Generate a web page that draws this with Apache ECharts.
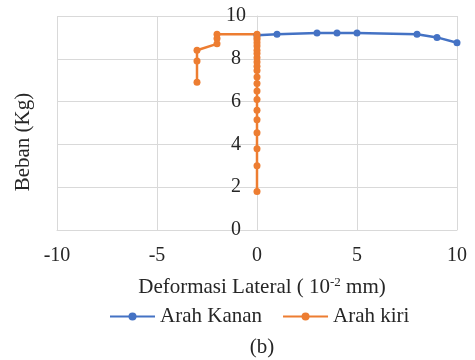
<!DOCTYPE html>
<html>
<head>
<meta charset="utf-8">
<script src="https://cdn.jsdelivr.net/npm/echarts@6/dist/echarts.min.js"></script>
<style>
  html, body { margin: 0; padding: 0; background: #fff; }
  #chart { width: 475px; height: 360px; }
</style>
</head>
<body>
<div id="chart"></div>
<script>
// data
var kananX = [0, 1, 3, 4, 5, 8, 9, 10];
var kananY = [9.1, 9.15, 9.2, 9.2, 9.2, 9.15, 9.0, 8.75];

var kiriX = [0, 0, 0, 0, 0, 0, 0, 0, 0, 0, 0, 0, 0, 0, 0, 0, 0, 0, 0, 0, 0,
             -2, -2, -2, -3, -3, -3];
var kiriY = [1.8, 3.0, 3.8, 4.55, 5.15, 5.6, 6.1, 6.5, 6.85, 7.15, 7.45, 7.65, 7.85, 8.05, 8.25, 8.4, 8.6, 8.75, 8.9, 9.0, 9.15,
             9.15, 8.95, 8.7, 8.4, 7.9, 6.9];

var xTicks = [-10, -5, 0, 5, 10];
var yTicks = [0, 2, 4, 6, 8, 10];

var seriesNames = ['Arah Kanan', 'Arah kiri'];
var colors = ['#4472C4', '#ED7D31'];

function pairs(xs, ys) {
  return xs.map(function (x, i) { return [x, ys[i]]; });
}

var font = 'Liberation Serif';
var txt = '#262626';
var chart = echarts.init(document.getElementById('chart'));

var option = {
  animation: false,
  color: colors,
  textStyle: { fontFamily: font, color: txt },
  grid: { left: 57, right: 18, top: 16, bottom: 130 },
  legend: {
    data: seriesNames,
    left: 104,
    top: 301,
    itemWidth: 45,
    itemHeight: 10,
    itemGap: 20,
    textStyle: { fontFamily: font, fontSize: 21, color: txt }
  },
  xAxis: {
    type: 'value',
    min: xTicks[0],
    max: xTicks[xTicks.length - 1],
    interval: 5,
    name: '{a|Deformasi Lateral ( 10}{s|-2}{a| mm)}',
    nameLocation: 'middle',
    nameGap: 46,
    nameTextStyle: {
      padding: [0, 0, 0, 10],
      rich: {
        a: { fontFamily: font, fontSize: 21, color: txt },
        s: { fontFamily: font, fontSize: 13, color: txt, verticalAlign: 'top', padding: [0, 0, 9, 0] }
      }
    },
    axisLine: { lineStyle: { color: '#d9d9d9', width: 1 } },
    axisTick: { show: false },
    axisLabel: { fontFamily: font, fontSize: 20, color: txt, margin: 16 },
    splitLine: { show: true, lineStyle: { color: '#d9d9d9' } }
  },
  yAxis: {
    type: 'value',
    min: yTicks[0],
    max: yTicks[yTicks.length - 1],
    interval: 2,
    offset: -200,
    axisLine: { show: true, onZero: false, lineStyle: { color: '#d9d9d9', width: 1 } },
    axisTick: { show: false },
    axisLabel: { fontFamily: font, fontSize: 20, color: txt, margin: 21, align: 'center' },
    splitLine: { show: true, lineStyle: { color: '#d9d9d9' } }
  },
  graphic: [
    {
      type: 'text',
      x: 23, y: 142,
      rotation: Math.PI / 2,
      style: {
        text: 'Beban (Kg)',
        fontFamily: font, fontSize: 21, fill: txt,
        align: 'center', verticalAlign: 'middle'
      }
    },
    {
      type: 'text',
      x: 262, y: 347,
      style: {
        text: '(b)',
        fontFamily: font, fontSize: 21, fill: txt,
        align: 'center', verticalAlign: 'middle'
      }
    }
  ],
  series: [
    {
      name: seriesNames[0],
      type: 'line',
      data: pairs(kananX, kananY),
      symbol: 'circle',
      symbolSize: 7,
      lineStyle: { width: 2.5, color: colors[0] },
      itemStyle: { color: colors[0] }
    },
    {
      name: seriesNames[1],
      type: 'line',
      data: pairs(kiriX, kiriY),
      symbol: 'circle',
      symbolSize: 7,
      lineStyle: { width: 2.5, color: colors[1] },
      itemStyle: { color: colors[1] }
    }
  ]
};

chart.setOption(option);
</script>
</body>
</html>
